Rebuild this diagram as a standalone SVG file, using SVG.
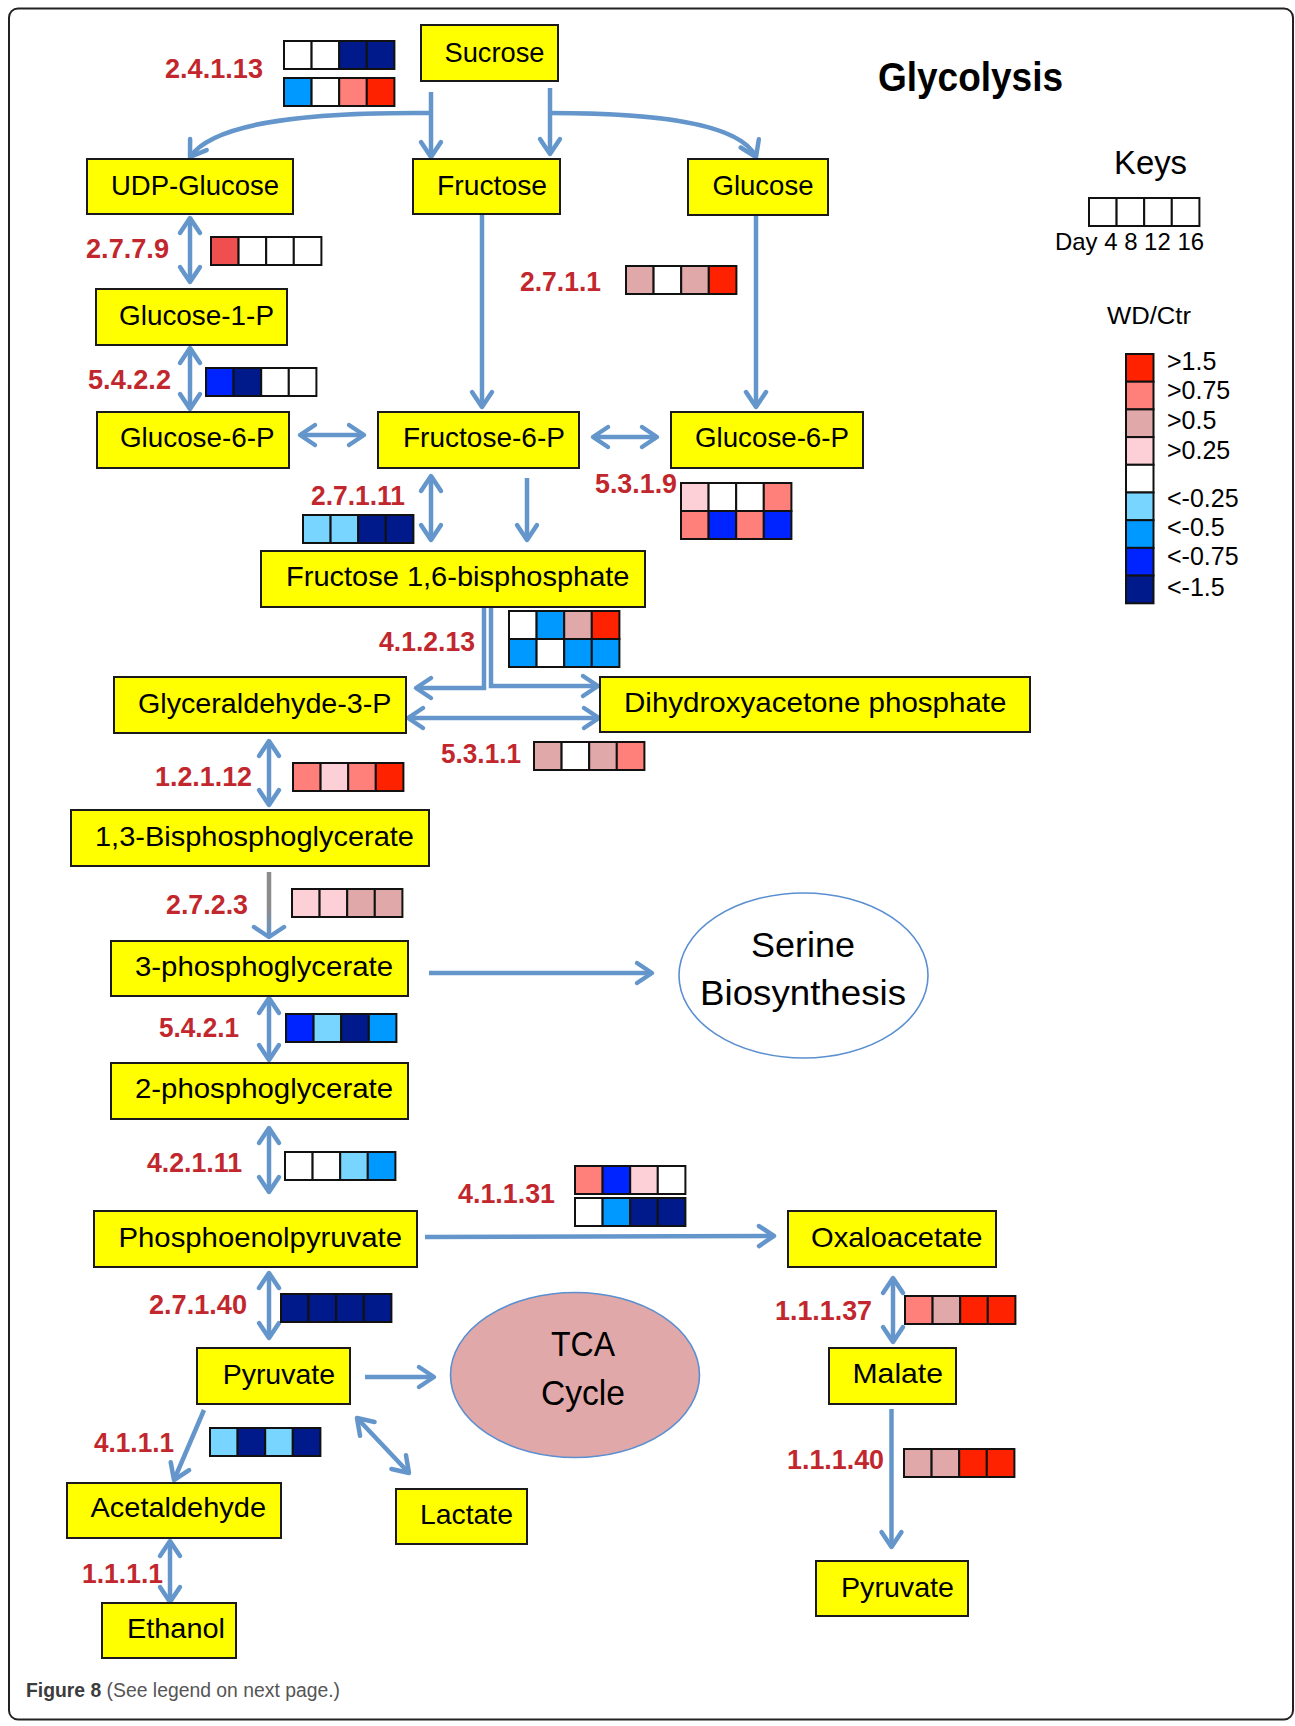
<svg xmlns="http://www.w3.org/2000/svg" width="1295" height="1726" viewBox="0 0 1295 1726">
<defs>
<style>
.box{fill:#ffff00;stroke:#1a1a1a;stroke-width:2}
.nt{font-family:"Liberation Sans",Arial,sans-serif;font-size:28px;fill:#000}
.ec{font-family:"Liberation Sans",Arial,sans-serif;font-size:27px;font-weight:bold;fill:#c1272d}
.hm rect{stroke:#111;stroke-width:2}
.w{fill:#fff}.r0{fill:#fdd0d8}.r1{fill:#e0a8a8}.r2{fill:#ff7f7a}.r3{fill:#ff2200}.rx{fill:#f04f4f}
.b0{fill:#77d5ff}.b1{fill:#0099ff}.b2{fill:#0024ff}.b3{fill:#001a8c}
.ar{fill:none;stroke:#6496cc;stroke-width:4.5}
.one{marker-end:url(#ah)}
.two{marker-start:url(#ah);marker-end:url(#ah)}
.lg{font-family:"Liberation Sans",Arial,sans-serif;font-size:25px;fill:#000}
.ell{stroke:#5b8fd0;stroke-width:1.6}
</style>
<marker id="ah" viewBox="-20 -14 26 28" refX="0" refY="0" markerWidth="26" markerHeight="28" markerUnits="userSpaceOnUse" orient="auto-start-reverse" overflow="visible">
<path d="M-15,-10 L0,0 L-15,10" fill="none" stroke="#6496cc" stroke-width="4.5" stroke-linecap="round" stroke-linejoin="round"/>
</marker>
<linearGradient id="gb" gradientUnits="userSpaceOnUse" x1="0" y1="872" x2="0" y2="937">
<stop offset="0" stop-color="#8c8c8c"/><stop offset="0.55" stop-color="#8c8c8c"/><stop offset="1" stop-color="#6496cc"/>
</linearGradient>
</defs>

<rect x="9" y="8.5" width="1284" height="1711" rx="9" fill="#fff" stroke="#222" stroke-width="2"/>

<text x="878" y="91" font-family="Liberation Sans, Arial, sans-serif" font-size="40" font-weight="bold" textLength="185" lengthAdjust="spacingAndGlyphs">Glycolysis</text>

<!-- connectors -->
<g id="connectors">
<path class="ar one" d="M431,92 V157"/>
<path class="ar one" d="M431,113 C320,112 215,120 190,157"/>
<path class="ar one" d="M550,88 V154"/>
<path class="ar one" d="M550,113 C650,113 740,122 756,157"/>
<path class="ar two" d="M190,218 V282"/>
<path class="ar two" d="M190,348 V409"/>
<path class="ar two" d="M300,435 H364"/>
<path class="ar one" d="M482,215 V407"/>
<path class="ar one" d="M756,216 V407"/>
<path class="ar two" d="M593,437 H657"/>
<path class="ar two" d="M431,476 V540"/>
<path class="ar one" d="M527,478 V540"/>
<path class="ar one" d="M484,607 V688 H416" stroke-linejoin="miter"/>
<path class="ar one" d="M491,607 V686 H598" stroke-linejoin="miter"/>
<path class="ar two" d="M408,718 H599"/>
<path class="ar two" d="M269,741 V805"/>
<path d="M269,872 V937" fill="none" stroke="url(#gb)" stroke-width="4.5"/>
<path d="M254,927 L269,937 L284,927" fill="none" stroke="#6496cc" stroke-width="4.5" stroke-linecap="round" stroke-linejoin="round"/>
<path class="ar one" d="M429,973 H652"/>
<path class="ar two" d="M269,998 V1060"/>
<path class="ar two" d="M269,1128 V1192"/>
<path class="ar one" d="M425,1237 L774,1236"/>
<path class="ar two" d="M269,1273 V1338"/>
<path class="ar one" d="M365,1377 H434"/>
<path class="ar one" d="M204,1410 L174,1480"/>
<path class="ar two" d="M357,1418 L409,1473"/>
<path class="ar two" d="M170,1541 V1602"/>
<path class="ar two" d="M893,1278 V1342"/>
<path class="ar one" d="M891.5,1409 V1547"/>
</g>

<!-- nodes -->
<g id="n-sucrose"><rect class="box" x="421" y="25" width="137" height="56"/><text class="nt" x="444.5" y="62" textLength="100" lengthAdjust="spacingAndGlyphs">Sucrose</text></g>
<g id="n-udpglucose"><rect class="box" x="87" y="159" width="206" height="55"/><text class="nt" x="111" y="194.5" textLength="168" lengthAdjust="spacingAndGlyphs">UDP-Glucose</text></g>
<g id="n-fructose"><rect class="box" x="413" y="159" width="147" height="55"/><text class="nt" x="437" y="194.5" textLength="110" lengthAdjust="spacingAndGlyphs">Fructose</text></g>
<g id="n-glucose"><rect class="box" x="688" y="159" width="140" height="56"/><text class="nt" x="712.5" y="194.5" textLength="101" lengthAdjust="spacingAndGlyphs">Glucose</text></g>
<g id="n-g1p"><rect class="box" x="96" y="289" width="191" height="56"/><text class="nt" x="119" y="324.5" textLength="155" lengthAdjust="spacingAndGlyphs">Glucose-1-P</text></g>
<g id="n-g6p-left"><rect class="box" x="97" y="412" width="192" height="56"/><text class="nt" x="120" y="447" textLength="154.5" lengthAdjust="spacingAndGlyphs">Glucose-6-P</text></g>
<g id="n-f6p"><rect class="box" x="378" y="412" width="201" height="56"/><text class="nt" x="403" y="447" textLength="162" lengthAdjust="spacingAndGlyphs">Fructose-6-P</text></g>
<g id="n-g6p-right"><rect class="box" x="671" y="412" width="192" height="56"/><text class="nt" x="695" y="447" textLength="154" lengthAdjust="spacingAndGlyphs">Glucose-6-P</text></g>
<g id="n-f16bp"><rect class="box" x="261" y="551" width="384" height="56"/><text class="nt" x="286" y="586" textLength="343.5" lengthAdjust="spacingAndGlyphs">Fructose 1,6-bisphosphate</text></g>
<g id="n-gap"><rect class="box" x="114" y="677" width="292" height="56"/><text class="nt" x="138" y="713" textLength="253.5" lengthAdjust="spacingAndGlyphs">Glyceraldehyde-3-P</text></g>
<g id="n-dhap"><rect class="box" x="600" y="677" width="430" height="55"/><text class="nt" x="624" y="712" textLength="382.5" lengthAdjust="spacingAndGlyphs">Dihydroxyacetone phosphate</text></g>
<g id="n-13bpg"><rect class="box" x="71" y="810" width="358" height="56"/><text class="nt" x="95" y="846" textLength="319" lengthAdjust="spacingAndGlyphs">1,3-Bisphosphoglycerate</text></g>
<g id="n-3pg"><rect class="box" x="111" y="941" width="297" height="55"/><text class="nt" x="135" y="976" textLength="258" lengthAdjust="spacingAndGlyphs">3-phosphoglycerate</text></g>
<g id="n-2pg"><rect class="box" x="111" y="1063" width="297" height="56"/><text class="nt" x="135" y="1098" textLength="258" lengthAdjust="spacingAndGlyphs">2-phosphoglycerate</text></g>
<g id="n-pep"><rect class="box" x="94" y="1211" width="323" height="56"/><text class="nt" x="118.5" y="1247" textLength="283.5" lengthAdjust="spacingAndGlyphs">Phosphoenolpyruvate</text></g>
<g id="n-oaa"><rect class="box" x="788" y="1211" width="208" height="56"/><text class="nt" x="811" y="1247" textLength="171.5" lengthAdjust="spacingAndGlyphs">Oxaloacetate</text></g>
<g id="n-pyruvate"><rect class="box" x="197" y="1348" width="153" height="56"/><text class="nt" x="222.7" y="1384" textLength="112.3" lengthAdjust="spacingAndGlyphs">Pyruvate</text></g>
<g id="n-malate"><rect class="box" x="829" y="1348" width="127" height="56"/><text class="nt" x="852.5" y="1383" textLength="90.5" lengthAdjust="spacingAndGlyphs">Malate</text></g>
<g id="n-acetaldehyde"><rect class="box" x="67" y="1483" width="214" height="55"/><text class="nt" x="90.5" y="1517" textLength="175.5" lengthAdjust="spacingAndGlyphs">Acetaldehyde</text></g>
<g id="n-lactate"><rect class="box" x="396" y="1489" width="131" height="55"/><text class="nt" x="420" y="1524" textLength="93" lengthAdjust="spacingAndGlyphs">Lactate</text></g>
<g id="n-pyruvate-right"><rect class="box" x="816" y="1561" width="152" height="55"/><text class="nt" x="841" y="1597" textLength="113" lengthAdjust="spacingAndGlyphs">Pyruvate</text></g>
<g id="n-ethanol"><rect class="box" x="102" y="1603" width="134" height="55"/><text class="nt" x="127" y="1638" textLength="98" lengthAdjust="spacingAndGlyphs">Ethanol</text></g>

<g id="n-serine"><ellipse class="ell" cx="803.5" cy="975.5" rx="124.5" ry="82.5" fill="#fff"/>
<text x="751" y="957" font-family="Liberation Sans, Arial, sans-serif" font-size="35" textLength="104" lengthAdjust="spacingAndGlyphs">Serine</text>
<text x="700" y="1005" font-family="Liberation Sans, Arial, sans-serif" font-size="35" textLength="206" lengthAdjust="spacingAndGlyphs">Biosynthesis</text></g>
<g id="n-tca"><ellipse class="ell" cx="575" cy="1375" rx="124.5" ry="82.5" fill="#e0a8a8"/>
<text x="551" y="1356" font-family="Liberation Sans, Arial, sans-serif" font-size="35" textLength="64" lengthAdjust="spacingAndGlyphs">TCA</text>
<text x="541" y="1405" font-family="Liberation Sans, Arial, sans-serif" font-size="35" textLength="84" lengthAdjust="spacingAndGlyphs">Cycle</text></g>

<!-- enzyme annotations -->
<g id="ec-2.4.1.13"><text class="ec" x="165" y="78" textLength="98" lengthAdjust="spacingAndGlyphs">2.4.1.13</text>
<g class="hm"><rect class="w" x="284" y="41" width="27.6" height="28"/><rect class="w" x="311.6" y="41" width="27.6" height="28"/><rect class="b3" x="339.2" y="41" width="27.6" height="28"/><rect class="b3" x="366.8" y="41" width="27.6" height="28"/>
<rect class="b1" x="284" y="78" width="27.6" height="28"/><rect class="w" x="311.6" y="78" width="27.6" height="28"/><rect class="r2" x="339.2" y="78" width="27.6" height="28"/><rect class="r3" x="366.8" y="78" width="27.6" height="28"/></g></g>

<g id="ec-2.7.7.9"><text class="ec" x="86" y="258" textLength="83" lengthAdjust="spacingAndGlyphs">2.7.7.9</text>
<g class="hm"><rect class="rx" x="211" y="237" width="27.6" height="28"/><rect class="w" x="238.6" y="237" width="27.6" height="28"/><rect class="w" x="266.2" y="237" width="27.6" height="28"/><rect class="w" x="293.8" y="237" width="27.6" height="28"/></g></g>

<g id="ec-5.4.2.2"><text class="ec" x="88" y="389" textLength="83" lengthAdjust="spacingAndGlyphs">5.4.2.2</text>
<g class="hm"><rect class="b2" x="206" y="368" width="27.6" height="28"/><rect class="b3" x="233.6" y="368" width="27.6" height="28"/><rect class="w" x="261.2" y="368" width="27.6" height="28"/><rect class="w" x="288.8" y="368" width="27.6" height="28"/></g></g>

<g id="ec-2.7.1.1"><text class="ec" x="520" y="291" textLength="81" lengthAdjust="spacingAndGlyphs">2.7.1.1</text>
<g class="hm"><rect class="r1" x="626" y="266" width="27.6" height="28"/><rect class="w" x="653.6" y="266" width="27.6" height="28"/><rect class="r1" x="681.2" y="266" width="27.6" height="28"/><rect class="r3" x="708.8" y="266" width="27.6" height="28"/></g></g>

<g id="ec-2.7.1.11"><text class="ec" x="311" y="505" textLength="94" lengthAdjust="spacingAndGlyphs">2.7.1.11</text>
<g class="hm"><rect class="b0" x="303" y="515" width="27.6" height="28"/><rect class="b0" x="330.6" y="515" width="27.6" height="28"/><rect class="b3" x="358.2" y="515" width="27.6" height="28"/><rect class="b3" x="385.8" y="515" width="27.6" height="28"/></g></g>

<g id="ec-5.3.1.9"><text class="ec" x="595" y="493" textLength="82" lengthAdjust="spacingAndGlyphs">5.3.1.9</text>
<g class="hm"><rect class="r0" x="681" y="483" width="27.6" height="28"/><rect class="w" x="708.6" y="483" width="27.6" height="28"/><rect class="w" x="736.2" y="483" width="27.6" height="28"/><rect class="r2" x="763.8" y="483" width="27.6" height="28"/>
<rect class="r2" x="681" y="511" width="27.6" height="28"/><rect class="b2" x="708.6" y="511" width="27.6" height="28"/><rect class="r2" x="736.2" y="511" width="27.6" height="28"/><rect class="b2" x="763.8" y="511" width="27.6" height="28"/></g></g>

<g id="ec-4.1.2.13"><text class="ec" x="379" y="651" textLength="96" lengthAdjust="spacingAndGlyphs">4.1.2.13</text>
<g class="hm"><rect class="w" x="509" y="611" width="27.6" height="28"/><rect class="b1" x="536.6" y="611" width="27.6" height="28"/><rect class="r1" x="564.2" y="611" width="27.6" height="28"/><rect class="r3" x="591.8" y="611" width="27.6" height="28"/>
<rect class="b1" x="509" y="639" width="27.6" height="28"/><rect class="w" x="536.6" y="639" width="27.6" height="28"/><rect class="b1" x="564.2" y="639" width="27.6" height="28"/><rect class="b1" x="591.8" y="639" width="27.6" height="28"/></g></g>

<g id="ec-5.3.1.1"><text class="ec" x="441" y="763" textLength="80" lengthAdjust="spacingAndGlyphs">5.3.1.1</text>
<g class="hm"><rect class="r1" x="534" y="742" width="27.6" height="28"/><rect class="w" x="561.6" y="742" width="27.6" height="28"/><rect class="r1" x="589.2" y="742" width="27.6" height="28"/><rect class="r2" x="616.8" y="742" width="27.6" height="28"/></g></g>

<g id="ec-1.2.1.12"><text class="ec" x="155" y="786" textLength="97" lengthAdjust="spacingAndGlyphs">1.2.1.12</text>
<g class="hm"><rect class="r2" x="293" y="763" width="27.6" height="28"/><rect class="r0" x="320.6" y="763" width="27.6" height="28"/><rect class="r2" x="348.2" y="763" width="27.6" height="28"/><rect class="r3" x="375.8" y="763" width="27.6" height="28"/></g></g>

<g id="ec-2.7.2.3"><text class="ec" x="166" y="914" textLength="82" lengthAdjust="spacingAndGlyphs">2.7.2.3</text>
<g class="hm"><rect class="r0" x="292" y="889" width="27.6" height="28"/><rect class="r0" x="319.6" y="889" width="27.6" height="28"/><rect class="r1" x="347.2" y="889" width="27.6" height="28"/><rect class="r1" x="374.8" y="889" width="27.6" height="28"/></g></g>

<g id="ec-5.4.2.1"><text class="ec" x="159" y="1037" textLength="80" lengthAdjust="spacingAndGlyphs">5.4.2.1</text>
<g class="hm"><rect class="b2" x="286" y="1014" width="27.6" height="28"/><rect class="b0" x="313.6" y="1014" width="27.6" height="28"/><rect class="b3" x="341.2" y="1014" width="27.6" height="28"/><rect class="b1" x="368.8" y="1014" width="27.6" height="28"/></g></g>

<g id="ec-4.2.1.11"><text class="ec" x="147" y="1172" textLength="95" lengthAdjust="spacingAndGlyphs">4.2.1.11</text>
<g class="hm"><rect class="w" x="285" y="1152" width="27.6" height="28"/><rect class="w" x="312.6" y="1152" width="27.6" height="28"/><rect class="b0" x="340.2" y="1152" width="27.6" height="28"/><rect class="b1" x="367.8" y="1152" width="27.6" height="28"/></g></g>

<g id="ec-4.1.1.31"><text class="ec" x="458" y="1203" textLength="97" lengthAdjust="spacingAndGlyphs">4.1.1.31</text>
<g class="hm"><rect class="r2" x="575" y="1166" width="27.6" height="28"/><rect class="b2" x="602.6" y="1166" width="27.6" height="28"/><rect class="r0" x="630.2" y="1166" width="27.6" height="28"/><rect class="w" x="657.8" y="1166" width="27.6" height="28"/>
<rect class="w" x="575" y="1198" width="27.6" height="28"/><rect class="b1" x="602.6" y="1198" width="27.6" height="28"/><rect class="b3" x="630.2" y="1198" width="27.6" height="28"/><rect class="b3" x="657.8" y="1198" width="27.6" height="28"/></g></g>

<g id="ec-2.7.1.40"><text class="ec" x="149" y="1314" textLength="98" lengthAdjust="spacingAndGlyphs">2.7.1.40</text>
<g class="hm"><rect class="b3" x="281" y="1294" width="27.6" height="28"/><rect class="b3" x="308.6" y="1294" width="27.6" height="28"/><rect class="b3" x="336.2" y="1294" width="27.6" height="28"/><rect class="b3" x="363.8" y="1294" width="27.6" height="28"/></g></g>

<g id="ec-4.1.1.1"><text class="ec" x="94" y="1452" textLength="80" lengthAdjust="spacingAndGlyphs">4.1.1.1</text>
<g class="hm"><rect class="b0" x="210" y="1428" width="27.6" height="28"/><rect class="b3" x="237.6" y="1428" width="27.6" height="28"/><rect class="b0" x="265.2" y="1428" width="27.6" height="28"/><rect class="b3" x="292.8" y="1428" width="27.6" height="28"/></g></g>

<g id="ec-1.1.1.1"><text class="ec" x="82" y="1583" textLength="81" lengthAdjust="spacingAndGlyphs">1.1.1.1</text></g>

<g id="ec-1.1.1.37"><text class="ec" x="775" y="1320" textLength="97" lengthAdjust="spacingAndGlyphs">1.1.1.37</text>
<g class="hm"><rect class="r2" x="905" y="1296" width="27.6" height="28"/><rect class="r1" x="932.6" y="1296" width="27.6" height="28"/><rect class="r3" x="960.2" y="1296" width="27.6" height="28"/><rect class="r3" x="987.8" y="1296" width="27.6" height="28"/></g></g>

<g id="ec-1.1.1.40"><text class="ec" x="787" y="1469" textLength="97" lengthAdjust="spacingAndGlyphs">1.1.1.40</text>
<g class="hm"><rect class="r1" x="904" y="1449" width="27.6" height="28"/><rect class="r1" x="931.6" y="1449" width="27.6" height="28"/><rect class="r3" x="959.2" y="1449" width="27.6" height="28"/><rect class="r3" x="986.8" y="1449" width="27.6" height="28"/></g></g>

<!-- keys / legend -->
<g id="legend">
<text x="1114" y="174" font-family="Liberation Sans, Arial, sans-serif" font-size="33" textLength="73" lengthAdjust="spacingAndGlyphs">Keys</text>
<g class="hm"><rect class="w" x="1089" y="198" width="27.6" height="28"/><rect class="w" x="1116.6" y="198" width="27.6" height="28"/><rect class="w" x="1144.2" y="198" width="27.6" height="28"/><rect class="w" x="1171.8" y="198" width="27.6" height="28"/></g>
<text x="1055" y="250" font-family="Liberation Sans, Arial, sans-serif" font-size="24" textLength="149" lengthAdjust="spacingAndGlyphs">Day 4 8 12 16</text>
<text x="1107" y="324" font-family="Liberation Sans, Arial, sans-serif" font-size="23" textLength="84" lengthAdjust="spacingAndGlyphs">WD/Ctr</text>
<g class="hm">
<rect class="r3" x="1126" y="354" width="27.5" height="27.7"/>
<rect class="r2" x="1126" y="381.7" width="27.5" height="27.7"/>
<rect class="r1" x="1126" y="409.4" width="27.5" height="27.7"/>
<rect class="r0" x="1126" y="437.1" width="27.5" height="27.7"/>
<rect class="w" x="1126" y="464.8" width="27.5" height="27.7"/>
<rect class="b0" x="1126" y="492.5" width="27.5" height="27.7"/>
<rect class="b1" x="1126" y="520.2" width="27.5" height="27.7"/>
<rect class="b2" x="1126" y="547.9" width="27.5" height="27.7"/>
<rect class="b3" x="1126" y="575.6" width="27.5" height="27.7"/>
</g>
<text class="lg" x="1167" y="369.6">&gt;1.5</text>
<text class="lg" x="1167" y="399.2">&gt;0.75</text>
<text class="lg" x="1167" y="428.9">&gt;0.5</text>
<text class="lg" x="1167" y="458.5">&gt;0.25</text>
<text class="lg" x="1167" y="506.7">&lt;-0.25</text>
<text class="lg" x="1167" y="536.4">&lt;-0.5</text>
<text class="lg" x="1167" y="565.2">&lt;-0.75</text>
<text class="lg" x="1167" y="595.6">&lt;-1.5</text>
</g>

<text x="26" y="1697" font-family="Liberation Sans, Arial, sans-serif" font-size="20" textLength="314" lengthAdjust="spacingAndGlyphs"><tspan font-weight="bold" fill="#3c3c3c">Figure 8</tspan><tspan fill="#555"> (See legend on next page.)</tspan></text>
</svg>
